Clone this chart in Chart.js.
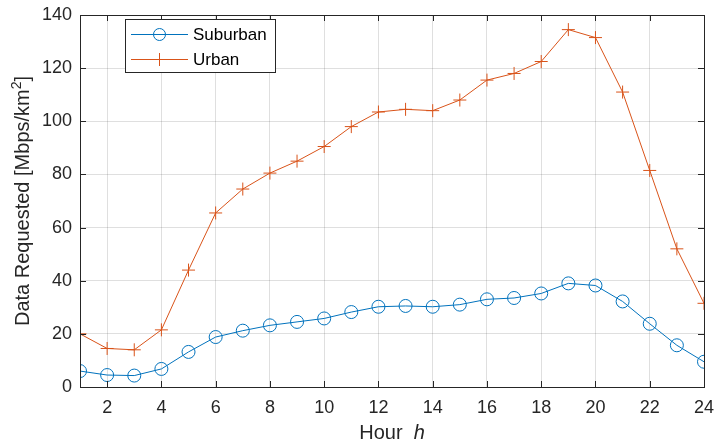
<!DOCTYPE html>
<html>
<head>
<meta charset="utf-8">
<script src="https://cdn.jsdelivr.net/npm/chart.js@4"></script>
<style>
  body { margin: 0; background: #fff; }
  #wrap { width: 716px; height: 444px; }
</style>
</head>
<body>
<div id="wrap"><canvas id="myChart" width="716" height="444"></canvas></div>
<script>
// Dados
const horas = [1, 2, 3, 4, 5, 6, 7, 8, 9, 10, 11, 12, 13, 14, 15, 16, 17, 18, 19, 20, 21, 22, 23, 24];
const suburban = [6, 4.5, 4.3, 6.8, 13.2, 18.8, 21.2, 23.2, 24.5, 25.8, 28.2, 30.2, 30.5, 30.2, 31, 33, 33.5, 35.2, 39, 38.2, 32.2, 23.8, 15.7, 9.5];
const urban = [20, 14.5, 14, 21.5, 44, 65.5, 74.5, 80.5, 85, 90.5, 98, 103.5, 104.5, 104, 108, 115.5, 118, 122.5, 134.5, 131.5, 111, 81.5, 52, 31.5];
const xTicks = [2, 4, 6, 8, 10, 12, 14, 16, 18, 20, 22, 24];
const yTicks = [0, 20, 40, 60, 80, 100, 120, 140];

const azul = '#0072BD';
const laranja = '#D95319';
const fonte = '"Liberation Sans", Arial, sans-serif';

function pares(ys) {
    return horas.map((h, i) => ({ x: h, y: ys[i] }));
}

// caixa, ticks internos, legenda e titulos dos eixos
const estiloMatlab = {
    id: 'estiloMatlab',
    afterDraw(chart) {
        const ctx = chart.ctx;
        const a = chart.chartArea;
        const sx = chart.scales.x, sy = chart.scales.y;
        ctx.save();
        ctx.strokeStyle = '#262626';
        ctx.lineWidth = 1;
        ctx.beginPath();
        xTicks.forEach(v => {
            const px = Math.round(sx.getPixelForValue(v)) + 0.5;
            ctx.moveTo(px, a.bottom); ctx.lineTo(px, a.bottom - 6);
            ctx.moveTo(px, a.top); ctx.lineTo(px, a.top + 6);
        });
        yTicks.forEach(v => {
            const py = Math.round(sy.getPixelForValue(v)) + 0.5;
            ctx.moveTo(a.left, py); ctx.lineTo(a.left + 6, py);
            ctx.moveTo(a.right, py); ctx.lineTo(a.right - 6, py);
        });
        ctx.stroke();
        ctx.strokeRect(Math.round(a.left) + 0.5, Math.round(a.top) + 0.5,
            Math.round(a.right - a.left), Math.round(a.bottom - a.top));

        // legenda
        const lx = 125, ly = 19, lw = 150, lh = 53;
        ctx.fillStyle = '#fff';
        ctx.fillRect(lx, ly, lw, lh);
        ctx.strokeStyle = '#262626';
        ctx.strokeRect(lx + 0.5, ly + 0.5, lw, lh);
        const itens = [
            { nome: 'Suburban', cor: azul, y: 34, marca: 'circulo' },
            { nome: 'Urban', cor: laranja, y: 59, marca: 'cruz' }
        ];
        itens.forEach(it => {
            ctx.strokeStyle = it.cor;
            ctx.lineWidth = 1;
            ctx.beginPath();
            ctx.moveTo(131, it.y + 0.5); ctx.lineTo(188, it.y + 0.5);
            ctx.stroke();
            ctx.beginPath();
            if (it.marca === 'circulo') {
                ctx.arc(159.5, it.y + 0.5, 6, 0, Math.PI * 2);
            } else {
                ctx.moveTo(153, it.y + 0.5); ctx.lineTo(166, it.y + 0.5);
                ctx.moveTo(159.5, it.y - 6); ctx.lineTo(159.5, it.y + 7);
            }
            ctx.stroke();
            ctx.fillStyle = '#000';
            ctx.font = '17px ' + fonte;
            ctx.textBaseline = 'middle';
            ctx.textAlign = 'left';
            ctx.fillText(it.nome, 193, it.y + 1);
        });

        // titulo x com h em italico
        ctx.fillStyle = '#262626';
        ctx.textBaseline = 'middle';
        ctx.textAlign = 'left';
        ctx.font = '20px ' + fonte;
        const t1 = 'Hour  ';
        const w1 = ctx.measureText(t1).width;
        ctx.font = 'italic 20px ' + fonte;
        const w2 = ctx.measureText('h').width;
        const cx = (a.left + a.right) / 2;
        const x0 = cx - (w1 + w2) / 2;
        ctx.font = '20px ' + fonte;
        ctx.fillText(t1, x0, 433);
        ctx.font = 'italic 20px ' + fonte;
        ctx.fillText('h', x0 + w1, 433);

        // titulo y com expoente
        ctx.save();
        ctx.translate(22, (a.top + a.bottom) / 2);
        ctx.rotate(-Math.PI / 2);
        ctx.font = '20px ' + fonte;
        const p1 = 'Data Requested [Mbps/km';
        const q1 = ctx.measureText(p1).width;
        const q3 = ctx.measureText(']').width;
        ctx.font = '14px ' + fonte;
        const q2 = ctx.measureText('2').width;
        let s = -(q1 + q2 + q3) / 2;
        ctx.textBaseline = 'alphabetic';
        ctx.font = '20px ' + fonte;
        ctx.fillText(p1, s, 7);
        ctx.font = '14px ' + fonte;
        ctx.fillText('2', s + q1, -1);
        ctx.font = '20px ' + fonte;
        ctx.fillText(']', s + q1 + q2, 7);
        ctx.restore();
        ctx.restore();
    }
};

const data = {
    datasets: [{
        label: 'Suburban',
        data: pares(suburban),
        borderColor: azul,
        backgroundColor: 'rgba(0,0,0,0)',
        borderWidth: 1,
        pointStyle: 'circle',
        pointRadius: 6.5,
        pointBorderWidth: 1,
        pointBorderColor: azul,
        pointBackgroundColor: 'rgba(0,0,0,0)'
    }, {
        label: 'Urban',
        data: pares(urban),
        borderColor: laranja,
        backgroundColor: 'rgba(0,0,0,0)',
        borderWidth: 1,
        pointStyle: 'cross',
        pointRadius: 6.5,
        pointBorderWidth: 1,
        pointBorderColor: laranja
    }]
};

const config = {
    type: 'line',
    data,
    plugins: [estiloMatlab],
    options: {
        responsive: false,
        animation: false,
        layout: { padding: { top: 15, right: 12, left: 0, bottom: 0 } },
        plugins: {
            legend: { display: false },
            tooltip: { enabled: false }
        },
        scales: {
            x: {
                type: 'linear',
                min: 1,
                max: 24,
                afterBuildTicks: s => { s.ticks = xTicks.map(v => ({ value: v })); },
                afterFit: s => { s.height = 57; s.paddingLeft = 0; s.paddingRight = 0; },
                grid: { color: 'rgba(38,38,38,0.15)', drawTicks: false },
                border: { display: false },
                ticks: { color: '#262626', font: { family: fonte, size: 18 }, padding: 10, maxRotation: 0 }
            },
            y: {
                min: 0,
                max: 140,
                afterBuildTicks: s => { s.ticks = yTicks.map(v => ({ value: v })); },
                afterFit: s => { s.width = 80; s.paddingTop = 0; s.paddingBottom = 0; },
                grid: { color: 'rgba(38,38,38,0.15)', drawTicks: false },
                border: { display: false },
                ticks: { color: '#262626', font: { family: fonte, size: 18 }, padding: 8 }
            }
        }
    }
};

var myChart = new Chart(document.getElementById('myChart'), config);
</script>
</body>
</html>
